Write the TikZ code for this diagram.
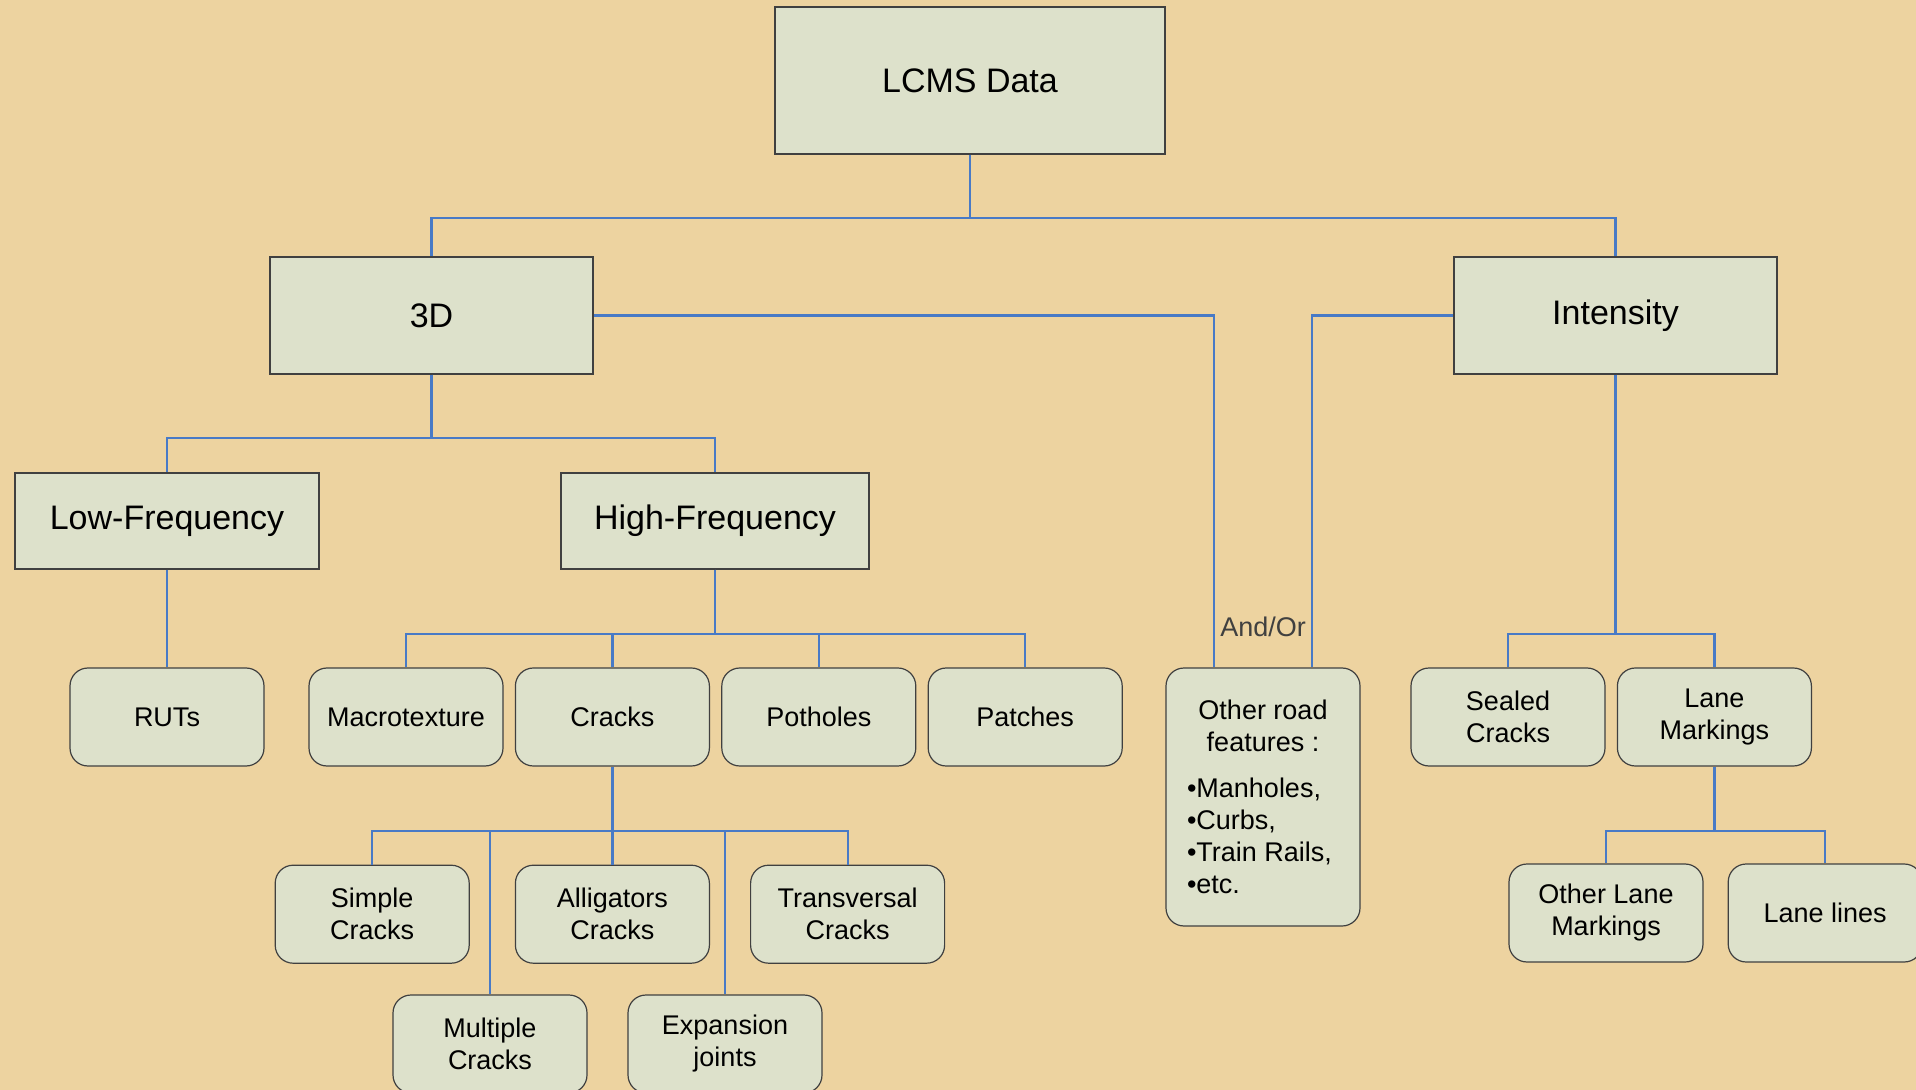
\documentclass[tikz,border=0pt]{standalone}
\usepackage{fontspec}
\setmainfont{Liberation Sans}
\usepackage{tikz}
\usetikzlibrary{positioning,calc}

\definecolor{paper}{RGB}{237,211,160}
\definecolor{boxfill}{RGB}{221,225,203}
\definecolor{wireblue}{RGB}{72,122,198}

\begin{document}
\begin{tikzpicture}[
    every node/.style={align=center},
    box/.style={draw=black!75, fill=boxfill, line width=0.6pt, inner sep=3pt},
    bigbox/.style={box, font=\fontsize{17}{20}\selectfont},
    leaf/.style={box, rounded corners=9pt, minimum width=97pt, minimum height=49pt,
        font=\fontsize{13.5}{16}\selectfont},
    wire/.style={draw=wireblue, line width=1.1pt},
    note/.style={font=\fontsize{13.5}{16}\selectfont, text=black!75, inner sep=0pt}
]
% Page and background
\fill[paper, use as bounding box] (0,0) rectangle (958pt,-545pt);
\clip (0,0) rectangle (958pt,-545pt);

% Root and main levels
\node[bigbox, minimum width=195pt, minimum height=73.5pt] (lcms) at (485pt,-40.25pt) {LCMS Data};
\node[bigbox, minimum width=161.5pt, minimum height=58.5pt] (d3) at (215.75pt,-157.75pt) {3D};
\node[bigbox, minimum width=161.5pt, minimum height=58.5pt] (intensity) at (807.75pt,-157.75pt) {Intensity};
\node[bigbox, minimum width=152pt, minimum height=48pt] (lowf) at (83.5pt,-260.5pt) {Low-Frequency};
\node[bigbox, minimum width=154pt, minimum height=48pt] (highf) at (357.5pt,-260.5pt) {High-Frequency};

% First row of leaves
\node[leaf] (ruts) at (83.5pt,-358.5pt) {RUTs};
\node[leaf] (macro) at (203pt,-358.5pt) {Macrotexture};
\node[leaf, right=5.6pt of macro] (cracks) {Cracks};
\node[leaf, right=5.6pt of cracks] (potholes) {Potholes};
\node[leaf, right=5.6pt of potholes] (patches) {Patches};

% Crack types
\node[leaf, below=49pt of cracks] (alligators) {Alligators\\Cracks};
\node[leaf, left=22.5pt of alligators] (simple) {Simple\\Cracks};
\node[leaf, right=20pt of alligators] (transversal) {Transversal\\Cracks};
\node[leaf] (multiple) at (245pt,-522pt) {Multiple\\Cracks};
\node[leaf] (expansion) at (362.5pt,-522pt) {Expansion\\joints};

% Shared branch
\node[leaf, minimum height=129pt] (other) at (631.5pt,-398.5pt) {%
    Other road\\features :\\[7pt]
    \makebox[76pt][l]{\textbullet Manholes,}\\
    \makebox[76pt][l]{\textbullet Curbs,}\\
    \makebox[76pt][l]{\textbullet Train Rails,}\\
    \makebox[76pt][l]{\textbullet etc.}};
\node[note, anchor=base] (andor) at ([yshift=15.5pt]other.north) {And/Or};

% Intensity leaves
\node[leaf] (sealed) at (754pt,-358.5pt) {Sealed\\Cracks};
\node[leaf, right=5.6pt of sealed] (lanemark) {Lane\\Markings};
\node[leaf] (otherlane) at (803pt,-456.5pt) {Other Lane\\Markings};
\node[leaf, right=12pt of otherlane] (lanelines) {Lane lines};

% Connectors
\draw[wire] (lcms.south) -- ++(0,-31.75pt) -| (d3.north);
\draw[wire] (lcms.south) -- ++(0,-31.75pt) -| (intensity.north);
\draw[wire] (d3.south) -- ++(0,-31.75pt) -| (lowf.north);
\draw[wire] (d3.south) -- ++(0,-31.75pt) -| (highf.north);
\draw[wire] (lowf.south) -- (ruts.north);
\foreach \n in {macro,cracks,potholes,patches}
    \draw[wire] (highf.south) -- ++(0,-32pt) -| (\n.north);
\foreach \n in {simple,alligators,transversal,multiple,expansion}
    \draw[wire] (cracks.south) -- ++(0,-32pt) -| (\n.north);
\draw[wire] (d3.east) -| ([xshift=-24.5pt]other.north);
\draw[wire] (intensity.west) -| ([xshift=24.5pt]other.north);
\foreach \n in {sealed,lanemark}
    \draw[wire] (intensity.south) -- ++(0,-129.5pt) -| (\n.north);
\foreach \n in {otherlane,lanelines}
    \draw[wire] (lanemark.south) -- ++(0,-32pt) -| (\n.north);
\end{tikzpicture}
\end{document}
